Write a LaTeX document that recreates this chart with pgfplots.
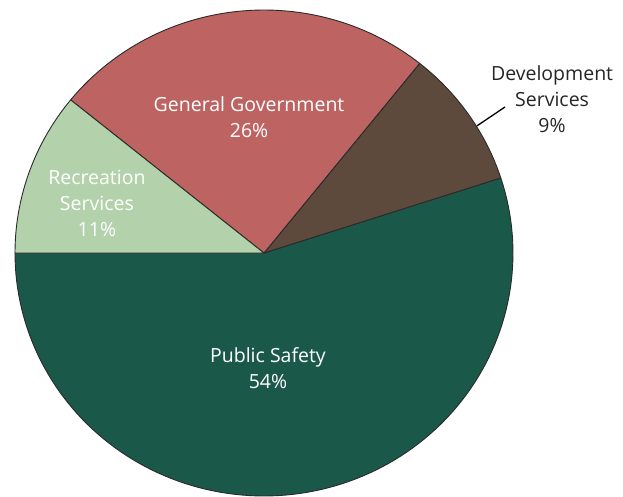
\documentclass[border=0pt]{standalone}
\usepackage{pgfplots}
\pgfplotsset{compat=1.18}
\usepackage{fontspec}
\setmainfont{Open Sans}
\definecolor{cPS}{HTML}{1A594A}
\definecolor{cDS}{HTML}{5E4A3D}
\definecolor{cGG}{HTML}{BD6463}
\definecolor{cRS}{HTML}{B3D2AC}
\definecolor{edge}{HTML}{2A2A2A}
% slice shares (percent), drawn counterclockwise starting at 180 degrees
\def\vPS{55.0}
\def\vDS{9.25}
\def\vGG{24.9}
\def\vRS{10.85}
\begin{document}
\begin{tikzpicture}
\pgfmathsetmacro{\aA}{180}
\pgfmathsetmacro{\aB}{\aA+3.6*\vPS}
\pgfmathsetmacro{\aC}{\aB+3.6*\vDS}
\pgfmathsetmacro{\aD}{\aC+3.6*\vGG}
\pgfmathsetmacro{\aE}{\aD+3.6*\vRS}
\begin{axis}[
  width=623pt, height=496pt, scale only axis,
  xmin=-1.0602, xmax=1.4418, ymin=-1.0, ymax=1.0412,
  hide axis, clip=true,
  every axis plot/.append style={line join=round},
]
\path (rel axis cs:0,0) rectangle (rel axis cs:1,1);
\addplot[fill=cPS, draw=edge, line width=0.9pt, domain=\aA:\aB, samples=120, variable=\t] ({cos(t)},{sin(t)}) -- (axis cs:0,0) -- cycle;
\addplot[fill=cDS, draw=edge, line width=0.9pt, domain=\aB:\aC, samples=30, variable=\t] ({cos(t)},{sin(t)}) -- (axis cs:0,0) -- cycle;
\addplot[fill=cGG, draw=edge, line width=0.9pt, domain=\aC:\aD, samples=60, variable=\t] ({cos(t)},{sin(t)}) -- (axis cs:0,0) -- cycle;
\addplot[fill=cRS, draw=edge, line width=0.9pt, domain=\aD:\aE, samples=30, variable=\t] ({cos(t)},{sin(t)}) -- (axis cs:0,0) -- cycle;
\addplot[black, line width=1.3pt] coordinates {(0.855,0.523) (0.968,0.601)};
\node[white, align=center, font=\fontsize{19.5}{26}\selectfont] at (axis cs:-0.060,0.560) {General Government\\26\%};
\node[white, align=center, font=\fontsize{19.5}{26}\selectfont] at (axis cs:-0.671,0.206) {Recreation\\Services\\11\%};
\node[white, align=center, font=\fontsize{19.5}{26}\selectfont] at (axis cs:0.016,-0.473) {Public Safety\\54\%};
\node[black!85, align=center, font=\fontsize{19.5}{26}\selectfont] at (axis cs:1.157,0.634) {Development\\Services\\9\%};
\end{axis}
\end{tikzpicture}
\end{document}
